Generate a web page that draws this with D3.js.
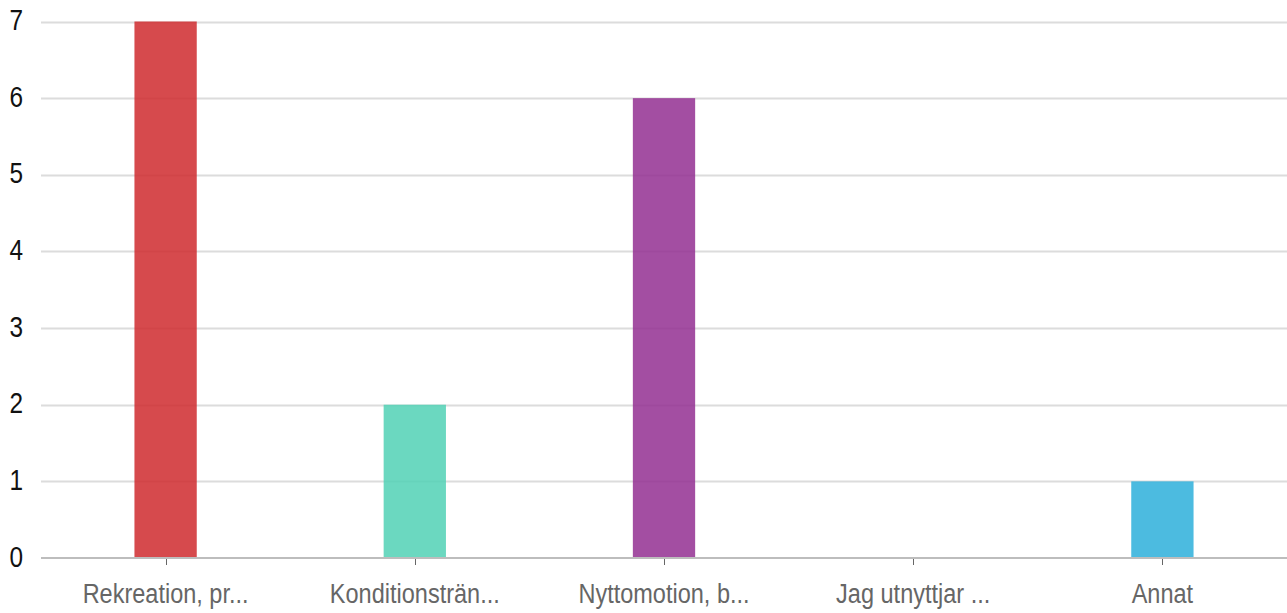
<!DOCTYPE html>
<html><head><meta charset="utf-8">
<script src="https://cdn.jsdelivr.net/npm/d3@7"></script>
<style>body{margin:0;background:#fff;} svg{display:block;}</style>
</head><body>
<svg id="c" width="1287" height="613"></svg>
<script>
const categories = ["Rekreation, pr...", "Konditionsträn...", "Nyttomotion, b...", "Jag utnyttjar ...", "Annat"];
const values = [7, 2, 6, 0, 1];
const colors = ["#cf2a2e", "#51d1b5", "#932f92", "#2dafdb", "#2dafdb"];
const yTicks = [0, 1, 2, 3, 4, 5, 6, 7];

(function () {
const svg = d3.select("#c");
const mLeft = 41, mRight = 1287, mTop = 21.5, mBottom = 558;
const sx = 0.84;
const x = d3.scaleBand().domain(categories).range([mLeft, mRight]);
const y = d3.scaleLinear().domain([0, 7]).range([mBottom, mTop]);

// gridlines
svg.append("g").selectAll("line").data(yTicks.filter(d => d > 0)).join("line")
  .attr("x1", mLeft).attr("x2", mRight)
  .attr("y1", d => Math.round(y(d)) + 0.5).attr("y2", d => Math.round(y(d)) + 0.5)
  .attr("stroke", "#dcdcdc").attr("stroke-width", 2);

// y labels
svg.append("g").selectAll("text").data(yTicks).join("text")
  .attr("transform", d => `translate(23,${y(d) + 8.5}) scale(${sx},1)`)
  .attr("text-anchor", "end")
  .attr("font-family", "Liberation Sans, Arial, sans-serif").attr("font-size", 29)
  .attr("fill", "#111").text(d => d);

// bars
const bw = x.bandwidth() * 0.25;
svg.append("g").selectAll("rect").data(values).join("rect")
  .attr("x", (d, i) => x(categories[i]) + x.bandwidth() / 2 - bw / 2)
  .attr("width", bw)
  .attr("y", d => y(d)).attr("height", d => mBottom - y(d))
  .attr("fill", (d, i) => colors[i]).attr("fill-opacity", 0.85);

// baseline
svg.append("line").attr("x1", mLeft).attr("x2", mRight)
  .attr("y1", mBottom).attr("y2", mBottom)
  .attr("stroke", "#bdbdbd").attr("stroke-width", 2);

// x ticks & labels
const xa = svg.append("g");
xa.selectAll("line").data(categories).join("line")
  .attr("x1", d => Math.round(x(d) + x.bandwidth() / 2) + 0.5)
  .attr("x2", d => Math.round(x(d) + x.bandwidth() / 2) + 0.5)
  .attr("y1", mBottom + 1).attr("y2", mBottom + 7)
  .attr("stroke", "#666").attr("stroke-width", 1);
xa.selectAll("text").data(categories).join("text")
  .attr("transform", d => `translate(${x(d) + x.bandwidth() / 2},603) scale(${sx},1)`)
  .attr("text-anchor", "middle")
  .attr("font-family", "Liberation Sans, Arial, sans-serif").attr("font-size", 28)
  .attr("fill", "#666").text(d => d);
})();
</script>
</body></html>
